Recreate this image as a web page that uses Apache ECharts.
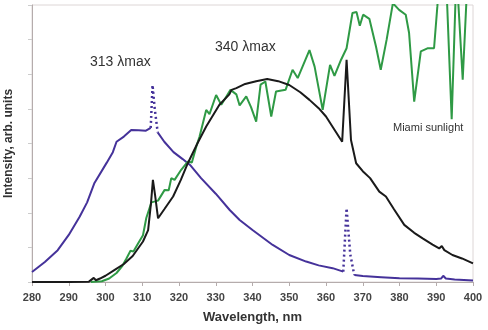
<!DOCTYPE html>
<html>
<head>
<meta charset="utf-8">
<script src="https://cdn.jsdelivr.net/npm/echarts@6/dist/echarts.min.js"></script>
<style>
html,body{margin:0;padding:0;background:#fff;}
#chart{width:488px;height:330px;}
</style>
</head>
<body>
<div id="chart"></div>
<script>
// X tick range
const xTicks = [280, 290, 300, 310, 320, 330, 340, 350, 360, 370, 380, 390, 400];

// 313 nm lamp (solid part, null = gap where the dotted spikes are)
const uvbWl  = [280, 283.5, 287, 290, 293, 295, 297, 300.3, 302, 303, 305, 307, 309, 311, 312.3,
                313, 314.2, 316, 318.5, 321, 323, 326, 330, 333.8, 336.5, 340, 345.5, 350, 354.6, 358, 361.8, 364.7,
                366, 367.7, 370, 375, 380, 385, 390, 391.3, 391.9, 392.6, 395, 400];
const uvbVal = [0.29, 0.58, 0.92, 1.36, 1.89, 2.3, 2.86, 3.44, 3.75, 4.05, 4.2, 4.39, 4.38, 4.37, 4.45,
                null, 4.32, 4.05, 3.75, 3.55, 3.38, 3.0, 2.55, 2.08, 1.79, 1.5, 1.07, 0.78, 0.59, 0.48, 0.40, 0.30,
                null, 0.2, 0.17, 0.14, 0.11, 0.1, 0.09, 0.1, 0.18, 0.1, 0.07, 0.04];

// 313 nm lamp emission-line spikes (dotted)
const uvbSpikeWl  = [312.3, 312.8, 313.4, 314.2, 340, 364.7, 365.6, 366.6, 367.7];
const uvbSpikeVal = [4.45, 5.69, 5.0, 4.32, null, 0.30, 2.13, 0.8, 0.2];

// 340 nm lamp
const uvaWl  = [280, 290, 295.5, 296.8, 297.4, 298.5, 300, 302.5, 305, 307.4, 310.2, 311.6, 312.4, 312.9, 313.5, 314.3,
                316, 318.4, 320.5, 322.4, 325, 327.4, 331, 333.7, 334.3, 335.6, 338, 341, 344, 347, 350, 353, 355.5,
                358, 360, 362, 364.4, 365.6, 366.8, 368.2, 370, 372, 374.5, 376.3, 378.5, 381.3, 384, 386.3, 389,
                390.8, 391.5, 392.2, 394.4, 397, 400];
const uvaVal = [0, 0, 0.01, 0.12, 0.05, 0.1, 0.18, 0.35, 0.52, 0.75, 1.17, 1.5, 2.3, 2.95, 2.5, 1.84,
                2.1, 2.47, 2.95, 3.43, 4.0, 4.49, 5.12, 5.42, 5.55, 5.6, 5.72, 5.8, 5.86, 5.8, 5.69, 5.48, 5.26,
                5.02, 4.78, 4.45, 4.05, 6.42, 4.1, 3.43, 3.2, 3.0, 2.61, 2.47, 2.1, 1.65, 1.42, 1.26, 1.08,
                0.97, 1.04, 0.92, 0.78, 0.68, 0.54];

// Miami sunlight
const sunWl  = [296, 299, 301, 303, 304.5, 305.7, 306.8, 307.6, 308.9, 310.2, 311.1, 312.5, 314.3, 316.1, 317.2,
                317.9, 318.8, 320.6, 322.4, 323.5, 324.7, 325.6, 327.4, 328.3, 330.1, 331.5, 332.9, 334, 335.6,
                336.5, 338.3, 339.6, 341, 342.2, 343.5, 345.1, 346.4, 349, 350.9, 352.3, 355.5, 356.9, 359.1,
                361.1, 362.3, 364.1, 365.6, 367.2, 368.3, 369.2, 370.1, 371.8, 373.6, 374.9, 376.5, 378.2,
                379.9, 381.7, 382.6, 384, 385.8, 387.6, 389.4, 390.3, 391, 392.6, 394.2, 395.5, 397.2, 398.6, 400];
const sunVal = [0, 0.02, 0.1, 0.26, 0.45, 0.68, 0.9, 0.88, 1.12, 1.35, 1.85, 2.3, 2.35, 2.66, 2.65,
                3.0, 2.95, 3.24, 3.48, 3.45, 3.91, 4.2, 4.97, 4.85, 5.4, 5.12, 5.36, 5.55, 5.42,
                5.1, 5.36, 5.05, 4.63, 5.7, 5.79, 4.78, 5.5, 5.55, 6.13, 5.89, 6.7, 6.22, 4.97,
                6.27, 5.95, 6.42, 6.75, 7.77, 7.8, 7.4, 7.72, 7.6, 6.8, 6.13, 7.0, 8.05,
                7.86, 7.72, 7.2, 5.21, 6.66, 6.75, 6.75, 7.96, 9, 9, 4.7, 9, 5.84, 9, 9];

function pairs(xs, ys) {
  return xs.map((x, i) => [x, ys[i] === null ? '-' : ys[i]]);
}

const chart = echarts.init(document.getElementById('chart'), null, {renderer: 'canvas'});
const font = '"Liberation Sans", Arial, sans-serif';
chart.setOption({
  animation: false,
  backgroundColor: '#fff',
  grid: {left: 32, right: 15, top: 5, bottom: 48, show: true, borderColor: '#ddd6d6', borderWidth: 1,
         containLabel: false, outerBoundsMode: 'none'},
  xAxis: {
    type: 'value', min: xTicks[0], max: xTicks[xTicks.length - 1], interval: 10,
    name: 'Wavelength, nm', nameLocation: 'middle', nameGap: 29,
    nameTextStyle: {fontFamily: font, fontWeight: 'bold', fontSize: 13, color: '#333'},
    axisLine: {lineStyle: {color: '#b5acac', width: 1}},
    axisTick: {show: true, length: 4, lineStyle: {color: '#b5acac'}},
    axisLabel: {fontFamily: font, fontWeight: 'bold', fontSize: 11, color: '#444', margin: 10},
    splitLine: {show: false}
  },
  yAxis: {
    type: 'value', min: 0, max: 8, interval: 1,
    name: 'Intensity, arb. units', nameLocation: 'middle', nameGap: 17, nameRotate: 90,
    nameTextStyle: {fontFamily: font, fontWeight: 'bold', fontSize: 12, color: '#333'},
    axisLine: {show: true, lineStyle: {color: '#b5acac', width: 1}},
    axisTick: {show: true, length: 4, lineStyle: {color: '#ccc'}},
    axisLabel: {show: false},
    splitLine: {show: false}
  },
  series: [
    {type: 'line', name: 'uvb', data: pairs(uvbWl, uvbVal), showSymbol: false, clip: true,
     connectNulls: false, lineStyle: {color: '#45329a', width: 2}},
    {type: 'line', name: 'uvbSpike', data: pairs(uvbSpikeWl, uvbSpikeVal), showSymbol: false, clip: true,
     connectNulls: false, lineStyle: {color: '#45329a', width: 2.5, type: [2, 3]}},
    {type: 'line', name: 'sun', data: pairs(sunWl, sunVal), showSymbol: false, clip: true,
     lineStyle: {color: '#2f9a45', width: 2}},
    {type: 'line', name: 'uva', data: pairs(uvaWl, uvaVal), showSymbol: false, clip: true,
     lineStyle: {color: '#1a1a1a', width: 2}}
  ],
  graphic: [
    {type: 'text', left: 90, top: 55, style: {text: '313 λmax', font: '14px ' + font, fill: '#333'}},
    {type: 'text', left: 215, top: 40, style: {text: '340 λmax', font: '14px ' + font, fill: '#333'}},
    {type: 'text', left: 393, top: 122, style: {text: 'Miami sunlight', font: '11px ' + font, fill: '#333'}}
  ]
});
</script>
</body>
</html>
